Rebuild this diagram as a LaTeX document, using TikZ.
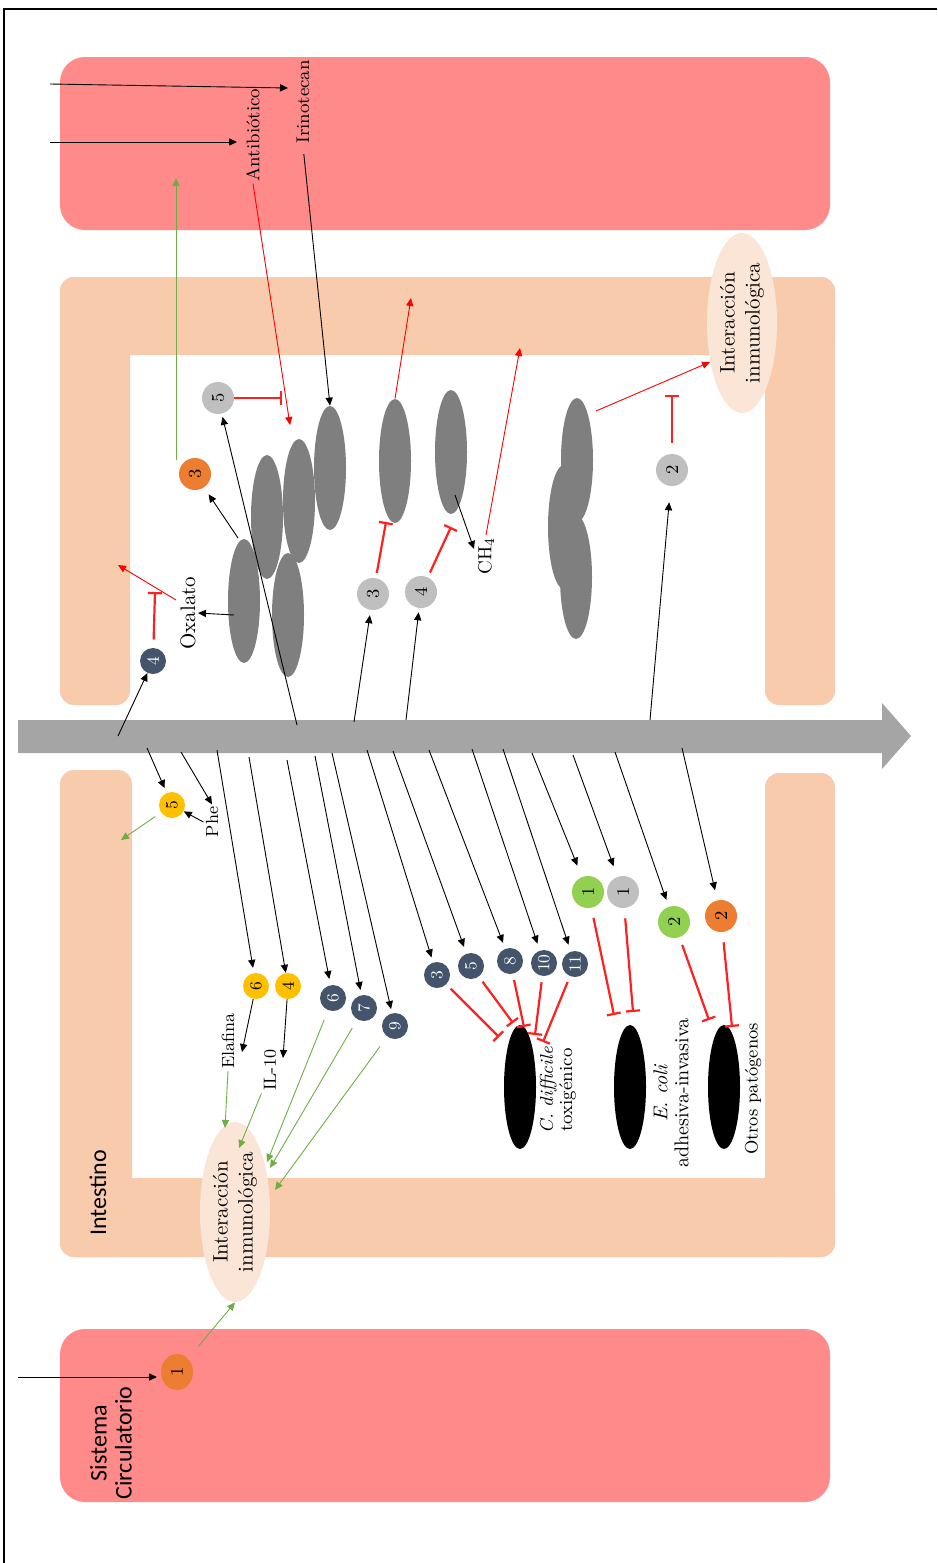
\documentclass[tikz,border=0pt]{standalone}
\usepackage{fontspec}
\setsansfont{Carlito}
\usetikzlibrary{arrows.meta,shapes.geometric}
\definecolor{boxred}{HTML}{FF8A8A}
\definecolor{peach}{HTML}{F8CBAD}
\definecolor{lpeach}{HTML}{FBE5D6}
\definecolor{barg}{HTML}{A5A5A5}
\definecolor{bactg}{HTML}{7F7F7F}
\definecolor{navy}{HTML}{44546A}
\definecolor{yel}{HTML}{FFC000}
\definecolor{orng}{HTML}{ED7D31}
\definecolor{grn}{HTML}{92D050}
\definecolor{lgr}{HTML}{BFBFBF}
\definecolor{garrow}{HTML}{70AD47}
\definecolor{inhred}{HTML}{FF2020}
\begin{document}
\begin{tikzpicture}[x=0.5pt,y=-0.5pt,
  lbl/.style={inner sep=1pt, rotate=90, align=center},
  circ/.style={circle, inner sep=0pt, minimum size=16pt, rotate=90, font=\fontsize{9}{10}\selectfont},
  scirc/.style={circ, minimum size=13pt, font=\fontsize{8.5}{9}\selectfont},
  navyc/.style={scirc, fill=navy, text=white},
  gbact/.style={ellipse, fill=bactg, inner sep=0pt, minimum width=16pt, minimum height=62pt},
  kbact/.style={ellipse, fill=black, inner sep=0pt, minimum width=16pt, minimum height=62pt},
  inter/.style={ellipse, fill=lpeach, rotate=90, inner sep=0pt, minimum width=90pt, minimum height=35pt, align=center, font=\fontsize{10.5}{12.5}\selectfont},
  arr/.style={draw=black, line width=0.45pt, -{Triangle[length=4pt,width=3.6pt]}},
  rarr/.style={draw=red, line width=0.45pt, -{Triangle[length=4pt,width=3.6pt]}},
  garr/.style={draw=garrow, line width=0.45pt, -{Triangle[length=4pt,width=3.6pt]}},
  inh/.style={draw=inhred, line width=1.1pt, -{Bar[width=7pt,line width=1.1pt]}}
]
\useasboundingbox (0,0) rectangle (937,1563);
% frame
\draw[line width=0.7pt] (4,1563) -- (4,9) -- (937,9);
% compartments
\fill[boxred, rounded corners=12.5pt] (60,57) rectangle (830,230);
\fill[peach, rounded corners=7pt] (60,277) rectangle (835,355);
\fill[peach, rounded corners=7pt] (60,277) rectangle (130,705);
\fill[peach, rounded corners=7pt] (765,277) rectangle (835,705);
\fill[peach, rounded corners=7pt] (60,770) rectangle (132,1257);
\fill[peach, rounded corners=7pt] (765,773) rectangle (835,1257);
\fill[peach, rounded corners=7pt] (60,1178) rectangle (835,1257);
\fill[boxred, rounded corners=12.5pt] (60,1329) rectangle (830,1502);
% central arrow
\fill[barg] (18,720) -- (882,720) -- (882,703) -- (911,736) -- (882,769) -- (882,753) -- (18,753) -- cycle;

% interaction ellipses
\node[inter] (itop) at (742,323) {Interacción\\inmunológica};
\node[inter] (ibot) at (235,1212) {Interacción\\inmunológica};

% region labels
\node[lbl, font=\sffamily\fontsize{12}{12.5}\selectfont] (intest) at (98,1193) {Intestino};
\node[lbl, font=\sffamily\fontsize{12}{12.5}\selectfont] (sist) at (111,1443) {Sistema\\Circulatorio};

% top bacteria
\node[gbact] (e1) at (244,601) {};
\node[gbact] (e2) at (267,517) {};
\node[gbact] (e3) at (288,615) {};
\node[gbact] (e4) at (299,501) {};
\node[gbact] (e5) at (330,468) {};
\node[gbact] (e6) at (395,461) {};
\node[gbact] (e7) at (451,452) {};
\node[gbact] (ca) at (577,460) {};
\node[gbact] (cb) at (564,527) {};
\node[gbact] (cc) at (576,577) {};

% pathogens
\node[kbact] (cdif) at (520,1087) {};
\node[kbact] (ecol) at (630,1087) {};
\node[kbact] (otro) at (724,1087) {};

% top labels
\node[lbl, font=\fontsize{9.2}{10}\selectfont] (antib) at (253,135) {Antibiótico};
\node[lbl, font=\fontsize{9.2}{10}\selectfont] (irino) at (303,102) {Irinotecan};
\node[lbl, font=\fontsize{10.5}{11}\selectfont] (oxal) at (188,613) {Oxalato};
\node[lbl, font=\fontsize{9.5}{10}\selectfont] (ch4) at (486,556) {CH$_4$};

% bottom labels
\node[lbl, font=\fontsize{8.8}{10}\selectfont] (phe) at (212,822) {Phe};
\node[lbl, font=\fontsize{8.8}{10}\selectfont] (elaf) at (228,1041) {Elafina};
\node[lbl, font=\fontsize{8.8}{10}\selectfont] (il10) at (270,1070) {IL-10};
\node[lbl, font=\fontsize{9.2}{9.6}\selectfont] (cdl) at (558,1090) {\textit{C. difficile}\\toxigénico};
\node[lbl, font=\fontsize{10}{10.5}\selectfont] (ecl) at (671,1093) {\textit{E. coli}\\adhesiva-invasiva};
\node[lbl, font=\fontsize{9}{10}\selectfont] (otl) at (753,1089) {Otros patógenos};

% top circles
\node[circ, fill=lgr] (t5) at (218,398) {5};
\node[circ, fill=orng] (to3) at (195,474) {3};
\node[navyc] (tn4) at (153,661) {4};
\node[circ, fill=lgr] (tg3) at (373,594) {3};
\node[circ, fill=lgr] (tg4) at (421,592) {4};
\node[circ, fill=lgr] (tg2) at (672,470) {2};

% bottom circles
\node[scirc, fill=yel] (y5) at (172,805) {5};
\node[scirc, fill=yel] (y6) at (256,986) {6};
\node[scirc, fill=yel] (y4) at (288,986) {4};
\node[navyc] (bn6) at (333,998) {6};
\node[navyc] (bn7) at (364,1008) {7};
\node[navyc] (bn9) at (395,1026) {9};
\node[navyc] (bn3) at (437,975) {3};
\node[navyc] (bn5) at (471,966) {5};
\node[navyc] (bn8) at (510,961) {8};
\node[navyc] (bn10) at (544,963) {10};
\node[navyc] (bn11) at (575,964) {11};
\node[circ, fill=grn] (gn1) at (588,892) {1};
\node[circ, fill=lgr] (gy1) at (623,892) {1};
\node[circ, fill=grn] (gn2) at (674,922) {2};
\node[circ, fill=orng] (on2) at (721,916) {2};
\node[ellipse, inner sep=0pt, fill=orng, minimum width=18pt, minimum height=16pt, rotate=90, font=\fontsize{9}{10}\selectfont] (o1) at (177,1372) {1};

% coordinates
\coordinate (inI) at (50,84);   \coordinate (inIe) at (288,88);
\coordinate (inA) at (50,142);  \coordinate (inAe) at (237,142);
\coordinate (abE) at (290,425);
\coordinate (g3s) at (176,460); \coordinate (g3e) at (176,178);
\coordinate (r6e) at (411,298);
\coordinate (ch4e) at (520,348);
\coordinate (r3s) at (596,411); \coordinate (r3e) at (710,362);
\coordinate (i5e) at (282,398);
\coordinate (oxs) at (234,615);
\coordinate (oxrs) at (176,600); \coordinate (oxre) at (118,565);
\coordinate (n4i) at (155,592);
\coordinate (b1) at (118,736);
\coordinate (e1o) at (238,538);
\coordinate (b2) at (297,725);
\coordinate (b3) at (354,722);
\coordinate (b4) at (406,720);
\coordinate (g3i) at (386,522);
\coordinate (g4i) at (451,527);
\coordinate (e7c) at (455,495); \coordinate (ch4a) at (474,549);
\coordinate (b5) at (650,720);
\coordinate (g2i) at (672,395);
\coordinate (c1) at (147,748); \coordinate (c2) at (181,752);
\coordinate (c3) at (217,750); \coordinate (c4) at (249,757);
\coordinate (c5) at (287,760); \coordinate (c6) at (315,756);
\coordinate (c7) at (332,753); \coordinate (c8) at (367,750);
\coordinate (c9) at (393,751); \coordinate (c10) at (429,750);
\coordinate (c11) at (472,749); \coordinate (c12) at (503,749);
\coordinate (c13) at (532,753); \coordinate (c14) at (573,755);
\coordinate (c15) at (615,752); \coordinate (c16) at (682,748);
\coordinate (y5g) at (121,840);
\coordinate (elafA) at (242,1052);
\coordinate (il10A) at (283,1058);
\coordinate (gi1) at (225,1128); \coordinate (gi2) at (239,1148);
\coordinate (gi3) at (267,1162); \coordinate (gi4) at (270,1168);
\coordinate (gi5) at (275,1190);
\coordinate (sc) at (18,1377); \coordinate (sce) at (157,1377);
\coordinate (ic1) at (499,1037); \coordinate (ic2) at (513,1023);
\coordinate (ic3) at (524,1027); \coordinate (ic4) at (535,1035);
\coordinate (ic5) at (543,1042);
\coordinate (ie1) at (614,1015); \coordinate (ie2) at (633,1012);
\coordinate (io1) at (709,1020); \coordinate (io2) at (732,1027);

% top connectors
\draw[arr] (inI) -- (inIe);
\draw[arr] (inA) -- (inAe);
\draw[arr, shorten <=4pt] (irino.west) -- (e5.north);
\draw[rarr] (antib.west) -- (abE);
\draw[garr] (g3s) -- (g3e);
\draw[rarr] (e6.north) -- (r6e);
\draw[rarr] (ch4.east) -- (ch4e);
\draw[rarr] (r3s) -- (r3e);
\draw[inh] (t5) -- (i5e);
\draw[arr] (oxs) -- (oxal.south);
\draw[rarr] (oxrs) -- (oxre);
\draw[inh, shorten <=4pt] (tn4) -- (n4i);
\draw[arr] (b1) -- (tn4);
\draw[arr, shorten >=4pt] (e1o) -- (to3);
\draw[arr, shorten >=1.5pt] (b2) -- (t5);
\draw[arr, shorten >=2.5pt] (b3) -- (tg3);
\draw[arr, shorten >=2pt] (b4) -- (tg4);
\draw[inh, shorten <=2.5pt] (tg3) -- (g3i);
\draw[inh, shorten <=2.5pt] (tg4) -- (g4i);
\draw[arr] (e7c) -- (ch4a);
\draw[arr, shorten >=8pt] (b5) -- (tg2);
\draw[inh, shorten <=5.5pt] (tg2) -- (g2i);

% bottom connectors
\draw[arr, shorten >=2.5pt] (c1) -- (y5);
\draw[arr] (c2) -- (phe.east);
\draw[arr] (phe.north) -- (y5);
\draw[garr, shorten <=3.5pt] (y5) -- (y5g);
\draw[arr, shorten >=2.5pt] (c3) -- (y6);
\draw[arr] (c4) -- (y4);
\draw[arr, shorten >=3pt] (c5) -- (bn6);
\draw[arr, shorten >=2.5pt] (c6) -- (bn7);
\draw[arr, shorten >=2pt] (c7) -- (bn9);
\draw[arr, shorten >=2.5pt] (c8) -- (bn3);
\draw[arr, shorten >=3.5pt] (c9) -- (bn5);
\draw[arr, shorten >=3pt] (c10) -- (bn8);
\draw[arr, shorten >=3.5pt] (c11) -- (bn10);
\draw[arr, shorten >=3.5pt] (c12) -- (bn11);
\draw[arr, shorten >=6pt] (c13) -- (gn1);
\draw[arr, shorten >=5.5pt] (c14) -- (gy1);
\draw[arr, shorten >=3.5pt] (c15) -- (gn2);
\draw[arr, shorten >=5pt] (c16) -- (on2);
\draw[arr] (y6) -- (elafA);
\draw[arr] (y4) -- (il10A);
\draw[garr] (elaf.west) -- (gi1);
\draw[garr] (il10.north west) -- (gi2);
\draw[garr, shorten <=5pt] (bn6) -- (gi3);
\draw[garr, shorten <=5pt] (bn7) -- (gi4);
\draw[garr, shorten <=6pt] (bn9) -- (gi5);
\draw[garr, shorten <=8pt] (o1) -- (ibot.west);
\draw[arr] (sc) -- (sce);
\draw[inh, shorten <=3pt] (bn3) -- (ic1);
\draw[inh, shorten <=3pt] (bn5) -- (ic2);
\draw[inh, shorten <=3pt] (bn8) -- (ic3);
\draw[inh, shorten <=3pt] (bn10) -- (ic4);
\draw[inh, shorten <=3pt] (bn11) -- (ic5);
\draw[inh, shorten <=5pt] (gn1) -- (ie1);
\draw[inh, shorten <=5pt] (gy1) -- (ie2);
\draw[inh, shorten <=4pt] (gn2) -- (io1);
\draw[inh, shorten <=5pt] (on2) -- (io2);
\end{tikzpicture}
\end{document}
